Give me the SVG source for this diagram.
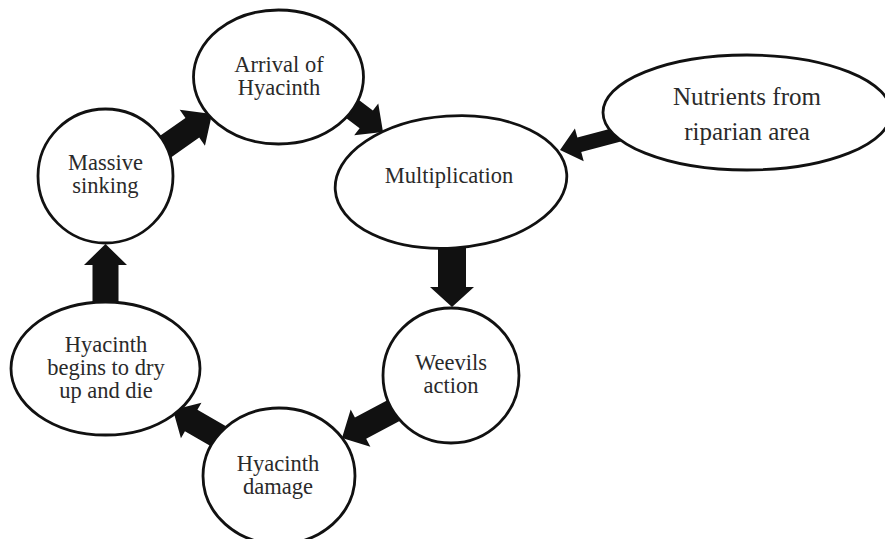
<svg xmlns="http://www.w3.org/2000/svg" width="885" height="539" viewBox="0 0 885 539">
<style>
.node{fill:#fff;stroke:#111;stroke-width:2.8}
.arrow{fill:#111;stroke:none}
text{font-family:"Liberation Serif","Times New Roman",serif;font-size:22.5px;fill:#2a2a2a;text-anchor:middle}
.big{font-size:25px}
</style>
<rect width="885" height="539" fill="#fff"/>
<g id="connectors">
<polygon class="arrow" transform="translate(212,114) rotate(-35)" points="-62,-12 -24,-12 -24,-22 0,0 -24,22 -24,12 -62,12"/>
<polygon class="arrow" transform="translate(383,132) rotate(37)" points="-60,-11 -21,-11 -21,-20 0,0 -21,20 -21,11 -60,11"/>
<polygon class="arrow" transform="translate(560,150) rotate(165)" points="-62,-7.5 -20,-7.5 -20,-17 0,0 -20,17 -20,7.5 -62,7.5"/>
<polygon class="arrow" transform="translate(452,307) rotate(90)" points="-72,-14 -20,-14 -20,-22 0,0 -20,22 -20,14 -72,14"/>
<polygon class="arrow" transform="translate(342,438) rotate(152)" points="-70,-12 -21,-12 -21,-21 0,0 -21,21 -21,12 -70,12"/>
<polygon class="arrow" transform="translate(173,410) rotate(210)" points="-70,-12.5 -21,-12.5 -21,-20.5 0,0 -21,20.5 -21,12.5 -70,12.5"/>
<polygon class="arrow" transform="translate(105.5,244) rotate(-90)" points="-66,-13 -21,-13 -21,-21.5 0,0 -21,21.5 -21,13 -66,13"/>
</g>
<g id="arrival">
<ellipse class="node" cx="278.5" cy="77" rx="85" ry="67"/>
<text x="279" y="72">Arrival of</text>
<text x="279" y="95">Hyacinth</text>
</g>
<g id="multiplication">
<ellipse class="node" cx="451" cy="182" rx="116" ry="66" transform="rotate(-4 451 182)"/>
<text x="449" y="183">Multiplication</text>
</g>
<g id="nutrients">
<ellipse class="node" cx="747" cy="112.5" rx="144" ry="57.5"/>
<text class="big" x="747" y="105">Nutrients from</text>
<text class="big" x="747" y="140">riparian area</text>
</g>
<g id="weevils">
<ellipse class="node" cx="451" cy="375.5" rx="68" ry="67.5"/>
<text x="451" y="370">Weevils</text>
<text x="451" y="393">action</text>
</g>
<g id="damage">
<ellipse class="node" cx="279" cy="476" rx="76" ry="68"/>
<text x="278" y="470.5">Hyacinth</text>
<text x="278" y="493.5">damage</text>
</g>
<g id="dry">
<ellipse class="node" cx="105.5" cy="368.5" rx="94.5" ry="66.5"/>
<text x="106" y="352">Hyacinth</text>
<text x="106" y="375">begins to dry</text>
<text x="106" y="398">up and die</text>
</g>
<g id="massive">
<ellipse class="node" cx="105.5" cy="176" rx="67.5" ry="67"/>
<text x="105.5" y="170">Massive</text>
<text x="105.5" y="193">sinking</text>
</g>
</svg>
